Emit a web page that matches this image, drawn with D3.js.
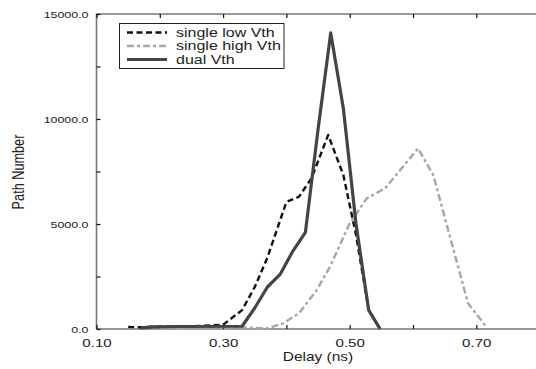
<!DOCTYPE html>
<html>
<head>
<meta charset="utf-8">
<script src="https://cdn.jsdelivr.net/npm/d3@7"></script>
<style>
  body { margin: 0; background: #fff; }
  svg { display: block; }
  text { font-family: "Liberation Sans", Arial, sans-serif; fill: #222; }
</style>
</head>
<body>
<div id="chart"></div>
<script>
// Series: delay (ns) and path count
var lowDelay  = [0.15, 0.17, 0.19, 0.25, 0.30, 0.33, 0.35, 0.37, 0.40, 0.42, 0.44, 0.466, 0.49, 0.50, 0.51, 0.53, 0.548];
var lowPaths  = [100, 80, 110, 120, 200, 900, 2000, 3400, 6050, 6300, 7200, 9240, 7330, 5900, 4480, 900, 0];

var highDelay = [0.20, 0.33, 0.37, 0.395, 0.42, 0.448, 0.469, 0.50, 0.527, 0.556, 0.608, 0.632, 0.687, 0.716];
var highPaths = [30, 80, 30, 270, 750, 1860, 2970, 5030, 6220, 6700, 8600, 7330, 1220, 100];

var dualDelay = [0.17, 0.19, 0.23, 0.33, 0.35, 0.37, 0.39, 0.41, 0.43, 0.45, 0.47, 0.49, 0.51, 0.53, 0.548];
var dualPaths = [50, 100, 120, 130, 1000, 2000, 2600, 3700, 4600, 9500, 14100, 10500, 5000, 900, 0];

var seriesNames = ["single low Vth", "single high Vth", "dual Vth"];

var xTicks = [0.1, 0.2, 0.3, 0.4, 0.5, 0.6, 0.7, 0.8];
var xLabelTicks = [0.1, 0.3, 0.5, 0.7];
var yTicks = [0, 2500, 5000, 7500, 10000, 12500, 15000];
var yLabelTicks = [0, 5000, 10000, 15000];

var W = 536, H = 369;
var stretch = 1.28; // the original figure is drawn a bit wide

var svg = d3.select("#chart").append("svg")
	.attr("width", W)
	.attr("height", H);

var x = d3.scaleLinear().domain([0.1, 0.8]).range([96.5, 539.6]);
var y = d3.scaleLinear().domain([0, 15000]).range([329, 14]);

// frame lines (grey)
var frame = svg.append("g").attr("stroke", "#777").attr("stroke-width", 1.6);
frame.append("line").attr("x1", x(0.1)).attr("x2", W).attr("y1", y(0)).attr("y2", y(0));
frame.append("line").attr("x1", x(0.1)).attr("x2", W).attr("y1", y(15000)).attr("y2", y(15000));
frame.append("line").attr("x1", x(0.1)).attr("x2", x(0.1)).attr("y1", y(0)).attr("y2", y(15000));

// ticks, all pointing inward
var xAxisB = d3.axisBottom(x).tickValues(xTicks).tickSize(-4)
	.tickFormat(d => xLabelTicks.some(v => Math.abs(v - d) < 1e-9) ? d3.format(".2f")(d) : "");
var xAxisT = d3.axisTop(x).tickValues(xTicks).tickSize(-4).tickFormat("");
var yAxisL = d3.axisLeft(y).tickValues(yTicks).tickSize(-4)
	.tickFormat(d => yLabelTicks.indexOf(d) != -1 ? d3.format(".1f")(d) : "");

var gxb = svg.append("g").attr("transform", `translate(0,${y(0)})`).call(xAxisB);
var gxt = svg.append("g").attr("transform", `translate(0,${y(15000)})`).call(xAxisT);
var gyl = svg.append("g").attr("transform", `translate(${x(0.1)},0)`).call(yAxisL);

[gxb, gxt, gyl].forEach(g => {
	g.select(".domain").remove();
	g.selectAll(".tick line").attr("stroke", "#111").attr("stroke-width", 1.2);
});

gxb.selectAll(".tick text")
	.attr("y", 10)
	.attr("dy", "0.71em")
	.style("font-size", "11.8px")
	.style("font-family", "'Liberation Sans', Arial, sans-serif")
	.attr("fill", "#222")
	.attr("transform", `scale(${stretch},1)`);

gyl.selectAll(".tick text")
	.attr("x", 0)
	.attr("dy", "0.35em")
	.style("font-size", "9.7px")
	.style("font-family", "'Liberation Sans', Arial, sans-serif")
	.attr("fill", "#222")
	.attr("transform", `translate(-8,0) scale(${stretch},1)`);

// axis titles
svg.append("text")
	.attr("transform", `translate(318,361) scale(${stretch},1)`)
	.attr("text-anchor", "middle")
	.style("font-size", "12.1px")
	.text("Delay (ns)");

svg.append("text")
	.attr("transform", `translate(24,172) rotate(-90) scale(1,${stretch})`)
	.attr("text-anchor", "middle")
	.style("font-size", "12.7px")
	.text("Path Number");

// lines
var line = d3.line().x(d => x(d[0])).y(d => y(d[1]));

var series = [
	{ name: seriesNames[1], data: d3.zip(highDelay, highPaths), color: "#a6a6a6", width: 2.4, dash: "7,3,3,3" },
	{ name: seriesNames[0], data: d3.zip(lowDelay, lowPaths), color: "#111", width: 2.4, dash: "6,3.5" },
	{ name: seriesNames[2], data: d3.zip(dualDelay, dualPaths), color: "#444", width: 3.2, dash: null }
];

svg.append("g").selectAll("path")
	.data(series)
	.join("path")
	.attr("d", d => line(d.data))
	.attr("fill", "none")
	.attr("stroke", d => d.color)
	.attr("stroke-width", d => d.width)
	.attr("stroke-dasharray", d => d.dash)
	.attr("stroke-linejoin", "round");

// legend, rows in name order: low, high, dual
var legend = svg.append("g");
legend.append("rect")
	.attr("x", 119.5).attr("y", 23.5)
	.attr("width", 164.5).attr("height", 45)
	.attr("fill", "#fff")
	.attr("stroke", "#222")
	.attr("stroke-width", 1);

var rowY = d3.scalePoint().domain(seriesNames).range([32.5, 59.5]);

seriesNames.forEach(name => {
	var s = series.find(d => d.name == name);
	var yy = rowY(name);
	legend.append("line")
		.attr("x1", 127).attr("x2", 167)
		.attr("y1", yy).attr("y2", yy)
		.attr("stroke", s.color)
		.attr("stroke-width", s.width)
		.attr("stroke-dasharray", s.dash);
	legend.append("text")
		.attr("transform", `translate(176,${yy}) scale(${stretch},1)`)
		.attr("dy", "0.35em")
		.style("font-size", "12.5px")
		.text(name);
});
</script>
</body>
</html>
